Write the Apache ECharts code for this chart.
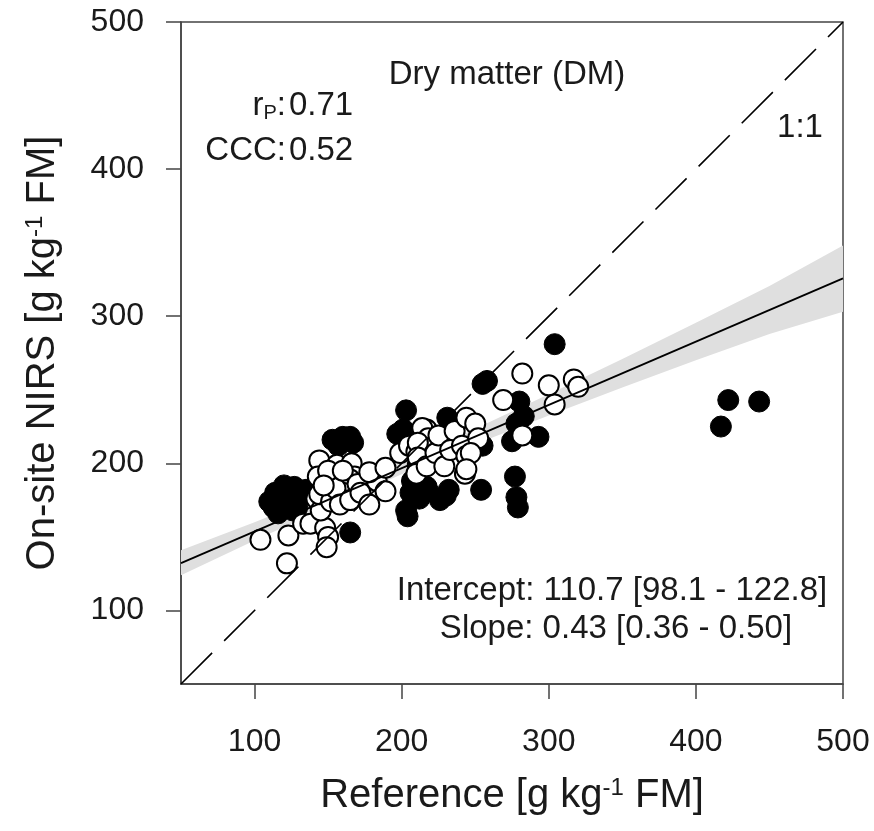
<!DOCTYPE html>
<html>
<head>
<meta charset="utf-8">
<script src="https://cdn.jsdelivr.net/npm/echarts@6/dist/echarts.min.js"></script>
<style>
html,body{margin:0;padding:0;background:#fff;}
#c{width:874px;height:831px;}
</style>
</head>
<body>
<div id="c"></div>
<script>
// ---- data ----
const xTicks = [100, 200, 300, 400, 500];
const yTicks = [100, 200, 300, 400, 500];

// filled (black) samples [reference, on-site NIRS]
const filledPoints = [
  [110,174],[114,180],[113,170],[116,166],[118,178],[121,173],[124,181],[127,184],
  [129,170],[131,177],[126,168],[120,185],[135,182],
  [153,216],[157,212],[160,218],[165,218],[167,214],[165,153],
  [203,236],[197,220],[201,223],[203,168],[206,180],[207,188],[204,164],[212,176],
  [218,181],[217,184],[226,175],[231,231],[232,182],[230,178],
  [254,182],[255,212],[255,254],[258,256],[275,215],[278,227],[280,242],[283,232],
  [293,218],[277,191],[278,177],[279,170],[304,281],
  [417,225],[422,243],[443,242]
];

// open (white) samples [reference, on-site NIRS]
const openPoints = [
  [104,148],[122,132],[123,151],[133,159],[138,159],[148,156],[150,150],[149,143],
  [144,202],[143,191],[142,176],[145,168],[144,179],[156,199],[157,187],[152,174],
  [166,200],[168,191],[165,189],[160,180],[155,183],[150,195],[147,185],[160,195],
  [158,172],[170,186],[165,175],[172,180],[183,188],
  [178,194],[178,172],[189,197],[189,181],[199,207],[205,212],[211,199],[210,208],
  [217,223],[214,224],[218,217],[211,214],[211,204],[210,193],[217,198],[223,207],
  [225,219],[236,222],
  [229,198],[233,209],[241,212],[244,205],[243,193],[244,231],[250,227],[252,217],
  [247,207],[244,196],[282,219],[269,243],[282,261],[300,253],[304,240],[317,257],[320,252]
];

// regression line and its confidence band
const regX = [50, 500];
const regY = [132.2, 325.7];
const bandX = [50, 100, 150, 200, 250, 300, 350, 400, 450, 500];
const bandLower = [124, 147.5, 170.5, 192.5, 213, 232.5, 251.5, 270, 288, 303];
const bandUpper = [141, 160, 180, 201, 223.5, 247, 271, 295.5, 320.5, 348];

// 1:1 line
const oneToOne = [[50, 50], [500, 500]];

const FONT = 'Liberation Sans, Arial, sans-serif';
const TXT = '#1a1a1a';
const AF = '33px ' + FONT;

const chart = echarts.init(document.getElementById('c'), null, {renderer: 'canvas'});

const axisCommon = {
  type: 'value', min: 50, max: 500,
  axisLine: {show: true, onZero: false, lineStyle: {color: '#444', width: 1.5}},
  splitLine: {show: false},
  axisTick: {show: true, length: 15, inside: false, customValues: xTicks, lineStyle: {color: '#444', width: 1.5}},
  axisLabel: {customValues: xTicks, fontFamily: FONT, fontSize: 32, color: TXT},
  nameLocation: 'middle',
  nameTextStyle: {
    fontFamily: FONT, fontSize: 40, color: TXT,
    rich: {sup: {fontFamily: FONT, fontSize: 24, color: TXT, verticalAlign: 'top', lineHeight: 24}}
  }
};

chart.setOption({
  animation: false,
  backgroundColor: '#fff',
  grid: {left: 181, top: 22, width: 662, height: 662, show: true, borderColor: '#444', borderWidth: 1.5, containLabel: false},
  xAxis: Object.assign({}, axisCommon, {
    name: 'Reference [g kg{sup|-1} FM]', nameGap: 92,
    axisLabel: Object.assign({}, axisCommon.axisLabel, {margin: 42}),
  }),
  yAxis: Object.assign({}, axisCommon, {
    name: 'On-site NIRS [g kg{sup|-1} FM]', nameGap: 118,
    axisTick: Object.assign({}, axisCommon.axisTick, {customValues: yTicks}),
    axisLabel: Object.assign({}, axisCommon.axisLabel, {customValues: yTicks, margin: 37}),
  }),
  series: [
    {
      type: 'custom', z: 1, silent: true,
      data: [0],
      renderItem: function (params, api) {
        const pts = [];
        for (let i = 0; i < bandX.length; i++) pts.push(api.coord([bandX[i], bandUpper[i]]));
        for (let i = bandX.length - 1; i >= 0; i--) pts.push(api.coord([bandX[i], bandLower[i]]));
        return {type: 'polygon', shape: {points: pts}, style: {fill: '#dfdfdf', stroke: null}};
      }
    },
    {
      type: 'scatter', z: 2, symbol: 'circle', symbolSize: 21,
      itemStyle: {color: '#000', borderColor: '#000', borderWidth: 1, opacity: 1},
      data: filledPoints
    },
    {
      type: 'scatter', z: 3, symbol: 'circle', symbolSize: 20,
      itemStyle: {color: '#fff', borderColor: '#000', borderWidth: 2, opacity: 1},
      data: openPoints
    },
    {
      type: 'line', z: 4, showSymbol: false, symbol: 'none',
      lineStyle: {color: '#000', width: 1.8},
      data: regX.map((x, i) => [x, regY[i]])
    },
    {
      type: 'line', z: 4, showSymbol: false, symbol: 'none',
      lineStyle: {color: '#000', width: 1.6, type: [44, 17]},
      data: oneToOne
    }
  ],
  graphic: [
    {type: 'text', x: 507, y: 75, style: {text: 'Dry matter (DM)', font: AF, fill: TXT, align: 'center', verticalAlign: 'middle'}},
    {type: 'text', x: 286, y: 106, style: {
      text: '{r|r}{s|P}{r|:}', align: 'right', verticalAlign: 'middle', fill: TXT,
      rich: {r: {fontFamily: FONT, fontSize: 33, fill: TXT, lineHeight: 34}, s: {fontFamily: FONT, fontSize: 20, fill: TXT, verticalAlign: 'bottom', lineHeight: 20}}
    }},
    {type: 'text', x: 289, y: 106, style: {text: '0.71', font: AF, fill: TXT, align: 'left', verticalAlign: 'middle'}},
    {type: 'text', x: 286, y: 151, style: {text: 'CCC:', font: AF, fill: TXT, align: 'right', verticalAlign: 'middle'}},
    {type: 'text', x: 289, y: 151, style: {text: '0.52', font: AF, fill: TXT, align: 'left', verticalAlign: 'middle'}},
    {type: 'text', x: 800, y: 128, style: {text: '1:1', font: AF, fill: TXT, align: 'center', verticalAlign: 'middle'}},
    {type: 'text', x: 612, y: 591, style: {text: 'Intercept: 110.7 [98.1 - 122.8]', font: AF, fill: TXT, align: 'center', verticalAlign: 'middle'}},
    {type: 'text', x: 616, y: 629, style: {text: 'Slope: 0.43 [0.36 - 0.50]', font: AF, fill: TXT, align: 'center', verticalAlign: 'middle'}}
  ]
});
</script>
</body>
</html>
